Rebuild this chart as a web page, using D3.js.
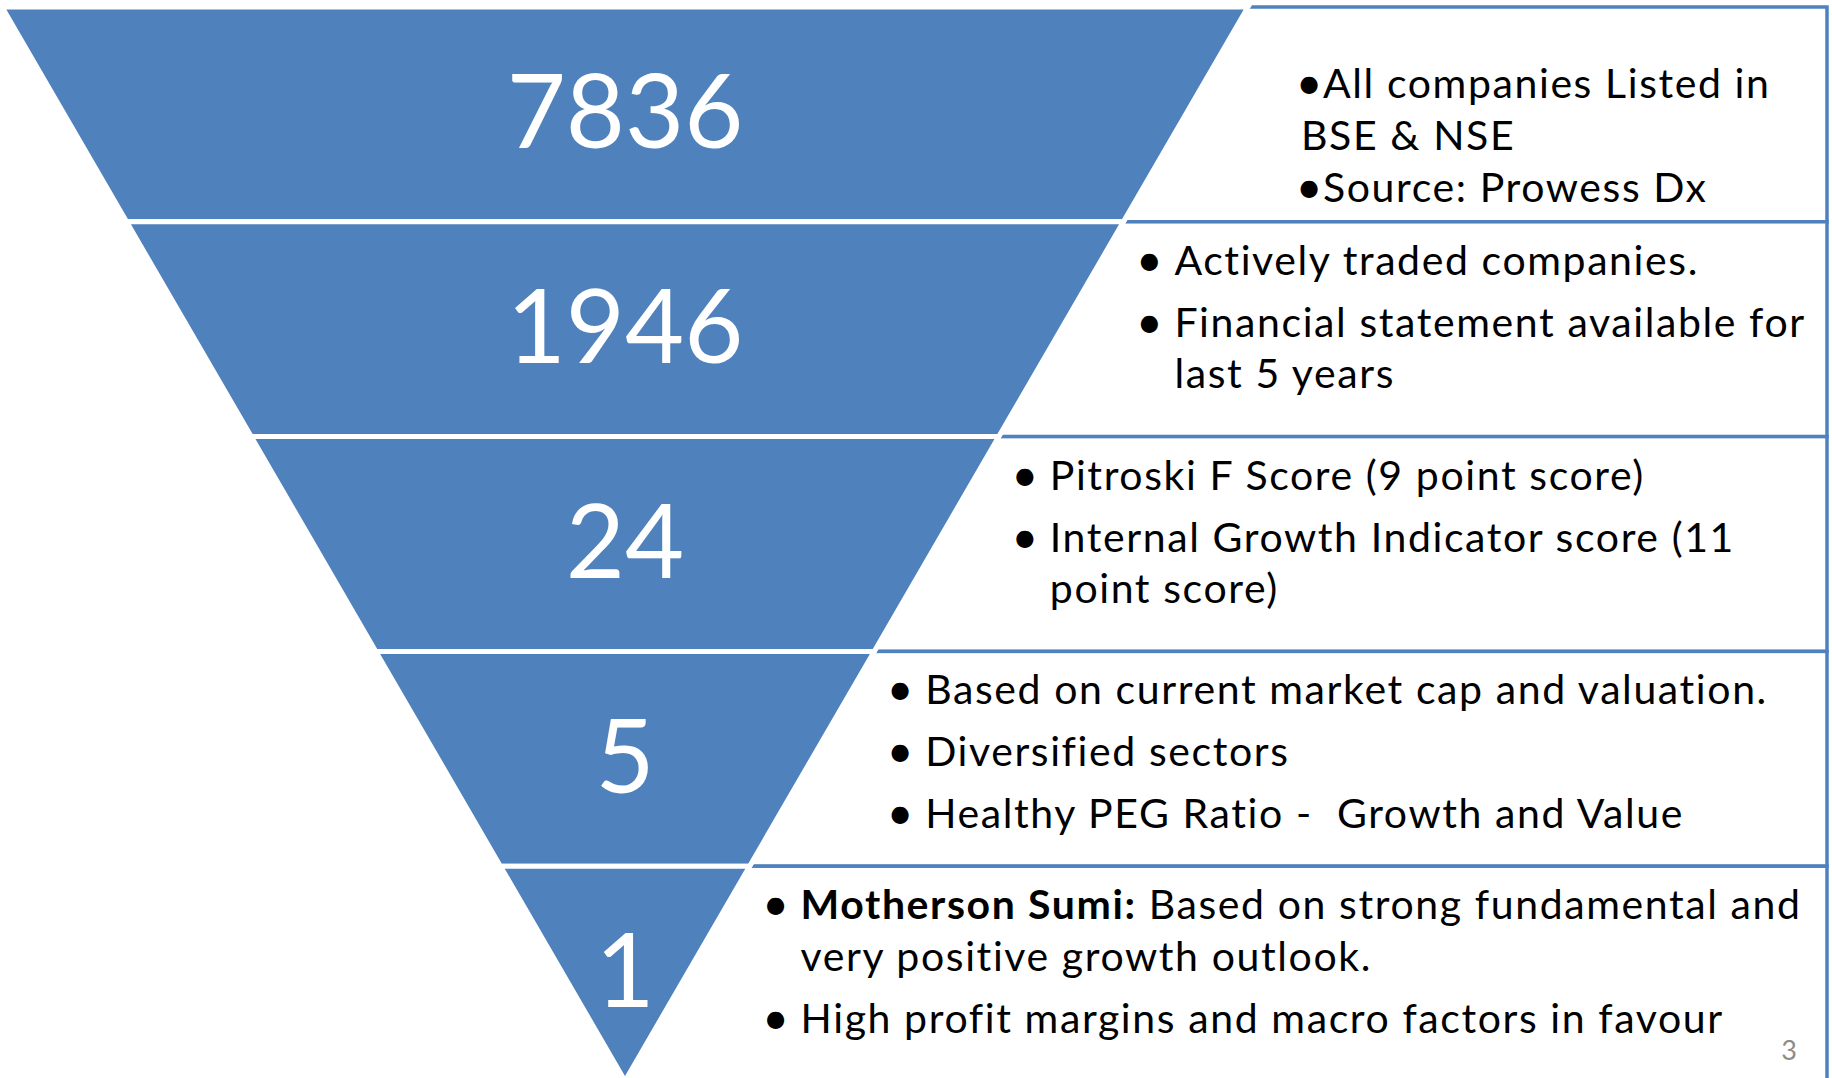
<!DOCTYPE html>
<html>
<head>
<meta charset="utf-8">
<script src="https://cdn.jsdelivr.net/npm/d3@7"></script>
<style>
  body { margin: 0; background: #fff; }
  svg { display: block; }
  text { font-family: Lato, "Open Sans", sans-serif; white-space: pre; }
</style>
</head>
<body>
<script>
// Funnel stages: number of companies left after each screening step
const counts = [7836, 1946, 24, 5, 1];

// Screening criteria for each stage (paragraphs -> wrapped lines)
const criteria = [
  [["All companies Listed in", "BSE & NSE"], ["Source: Prowess Dx"]],
  [["Actively traded companies."], ["Financial statement available for", "last 5 years"]],
  [["Pitroski F Score (9 point score)"], ["Internal Growth Indicator score (11", "point score)"]],
  [["Based on current market cap and valuation."], ["Diversified sectors"], ["Healthy PEG Ratio -  Growth and Value"]],
  [["**Motherson Sumi:** Based on strong fundamental and", "very positive growth outlook."], ["High profit margins and macro factors in favour"]]
];

const pageNumber = "3";

// Layout
const width = 1832, height = 1078;
const blue = "#4F81BD";
const cx = 625, topY = 7, apexY = 1081, topHalf = 623;
const boxRight = 1827;
const textSize = 41, bulletSize = 46, numSize = 102;

const svg = d3.select("body").append("svg")
  .attr("width", width)
  .attr("height", height);

// band index -> y, y -> half width of the funnel
const yBand = d3.scaleLinear().domain([0, counts.length]).range([topY, apexY]);
const half = d3.scaleLinear().domain([topY, apexY]).range([topHalf, 0]);
const pitch = yBand(1) - yBand(0);

// Text boxes on the right (drawn first, the funnel covers their left part)
svg.append("g").selectAll("rect")
  .data(counts)
  .join("rect")
  .attr("x", cx)
  .attr("y", (d, i) => yBand(i))
  .attr("width", boxRight - cx)
  .attr("height", (d, i) => i === counts.length - 1 ? height + 40 - yBand(i) : pitch)
  .attr("fill", "#fff")
  .attr("stroke", blue)
  .attr("stroke-width", 3.5);

// Funnel bands
function bandPath(i) {
  const y0 = yBand(i), y1 = yBand(i + 1);
  const pts = [[cx - half(y0), y0], [cx + half(y0), y0]];
  if (half(y1) > 0.01) pts.push([cx + half(y1), y1], [cx - half(y1), y1]);
  else pts.push([cx, y1]);
  return "M" + pts.map(p => p.join(",")).join("L") + "Z";
}

svg.append("g").selectAll("path")
  .data(counts)
  .join("path")
  .attr("d", (d, i) => bandPath(i))
  .attr("fill", blue)
  .attr("stroke", "#fff")
  .attr("stroke-width", 5)
  .attr("stroke-linejoin", "miter");

svg.append("g").selectAll("text")
  .data(counts)
  .join("text")
  .attr("x", cx)
  .attr("y", (d, i) => (yBand(i) + yBand(i + 1)) / 2 - 3 + numSize * 0.36)
  .attr("text-anchor", "middle")
  .attr("fill", "#fff")
  .attr("font-size", numSize)
  .text(d => d);

// Criteria text
const notes = svg.append("g")
  .attr("font-size", textSize)
  .attr("letter-spacing", 1.6)
  .attr("fill", "#000");

function addLine(x, y, str) {
  const t = notes.append("text").attr("x", x).attr("y", y);
  const m = str.match(/^\*\*(.+?)\*\*(.*)$/);
  if (m) {
    t.append("tspan").attr("font-weight", "bold").text(m[1]);
    t.append("tspan").text(m[2]);
  } else {
    t.text(str);
  }
}

function addBullet(x, y) {
  notes.append("text")
    .attr("x", x)
    .attr("y", y + 1)
    .attr("text-anchor", "middle")
    .attr("letter-spacing", 0)
    .attr("font-size", bulletSize)
    .text("\u2022");
}

criteria.forEach((paras, i) => {
  const edge = cx + half(yBand(i));
  if (i === 0) {
    // first box: bullet glued to the text, lines evenly spaced
    const x = edge + 53;
    let y = yBand(i) + 91;
    paras.forEach(lines => {
      lines.forEach((line, j) => {
        if (j === 0) {
          addBullet(x + 8, y);
          addLine(x + 22, y, line);
        } else {
          addLine(x, y, line);
        }
        y += 52;
      });
    });
  } else {
    const tx = edge + 51;
    let y = yBand(i) + 53;
    paras.forEach((lines, p) => {
      if (p > 0) y += 62 - 51.5;
      lines.forEach((line, j) => {
        if (j === 0) addBullet(tx - 25, y);
        addLine(tx, y, line);
        y += 51.5;
      });
    });
  }
});

svg.append("text")
  .attr("x", 1797)
  .attr("y", 1060)
  .attr("text-anchor", "end")
  .attr("font-size", 27)
  .attr("fill", "#8c8c8c")
  .text(pageNumber);
</script>
</body>
</html>
